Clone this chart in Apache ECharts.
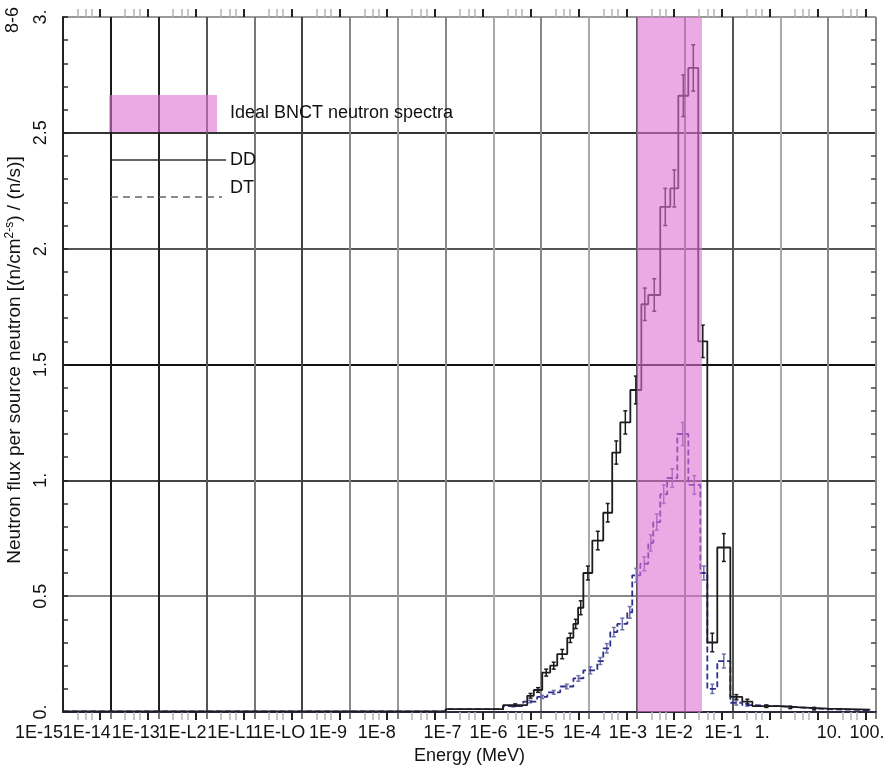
<!DOCTYPE html>
<html>
<head>
<meta charset="utf-8">
<script src="https://cdn.jsdelivr.net/npm/echarts@6/dist/echarts.min.js"></script>
<style>
html,body{margin:0;padding:0;background:#ffffff;}
#chart{width:891px;height:767px;}
</style>
</head>
<body>
<div id="chart"></div>
<script>
// ---------------- DATA ----------------
// x tick labels, one per decade from 1E-15 to 100 MeV (as printed)
const xTickLabels = ['1E-15','1E-14','1E-13','1E-L2','1E-L1','1E-LO','1E-9','1E-8','1E-7','1E-6',
                     '1E-5','1E-4','1E-3','1E-2','1E-1','1.','10.','100.'];
const yTickLabels = ['0.','0.5','1.','1.5','2.','2.5','3.'];
const xRangeMeV = [1e-15, 100];
const yRange = [0, 3];

// Ideal BNCT band (MeV)
const bandRange = [1.0e-3, 2.3e-2];

// DD spectrum: bin edges (MeV), bin values, error bar half-widths
const ddEdges = [1e-15, 1e-7, 1.6e-6, 5.1e-6, 7e-6, 1.05e-5, 1.54e-5, 2.16e-5, 3.5e-5, 4.7e-5,
                 5.9e-5, 7.6e-5, 1.17e-4, 1.98e-4, 3.05e-4, 4.5e-4, 7.3e-4, 1.24e-3, 1.73e-3, 3.08e-3,
                 5.0e-3, 7.35e-3, 1.19e-2, 1.92e-2, 2.97e-2, 4.8e-2, 9.0e-2, 0.16, 0.26, 1.0,
                 2.6, 10, 76];
const ddValues = [0.003, 0.012, 0.03, 0.07, 0.095, 0.17, 0.20, 0.25, 0.32, 0.38,
                  0.45, 0.60, 0.74, 0.86, 1.12, 1.25, 1.39, 1.76, 1.80, 2.18,
                  2.26, 2.66, 2.78, 1.60, 0.30, 0.71, 0.065, 0.045, 0.025, 0.02,
                  0.015, 0.01];
const ddErrors = [0, 0, 0.005, 0.01, 0.01, 0.015, 0.015, 0.02, 0.02, 0.02,
                  0.03, 0.03, 0.04, 0.04, 0.05, 0.05, 0.06, 0.07, 0.07, 0.08,
                  0.08, 0.09, 0.10, 0.07, 0.04, 0.06, 0.01, 0.01, 0.005, 0.005,
                  0.005, 0];

// DT spectrum
const dtEdges = [1e-15, 1e-7, 1.6e-6, 4.2e-6, 8.2e-6, 1.34e-5, 2.5e-5, 4.7e-5, 7.6e-5, 1.49e-4,
                 1.98e-4, 2.78e-4, 3.9e-4, 6.3e-4, 8.0e-4, 1.18e-3, 1.73e-3, 2.2e-3, 3.08e-3, 4.3e-3,
                 7.0e-3, 1.19e-2, 2.12e-2, 2.97e-2, 4.8e-2, 9.0e-2, 0.16, 0.26, 1.0, 2.6,
                 10, 76];
const dtValues = [0.003, 0.012, 0.025, 0.045, 0.065, 0.085, 0.11, 0.145, 0.18, 0.22,
                  0.275, 0.345, 0.38, 0.43, 0.59, 0.64, 0.73, 0.82, 0.94, 1.01,
                  1.20, 0.98, 0.60, 0.10, 0.22, 0.04, 0.03, 0.025, 0.02, 0.012,
                  0.008];
const dtErrors = [0, 0, 0.003, 0.005, 0.007, 0.008, 0.01, 0.012, 0.015, 0.015,
                  0.02, 0.02, 0.025, 0.025, 0.03, 0.03, 0.035, 0.035, 0.04, 0.04,
                  0.05, 0.04, 0.03, 0.02, 0.03, 0.01, 0.005, 0.005, 0.004, 0.003,
                  0];

// ---------------- STYLE ----------------
const FONT = "'Liberation Sans', Arial, sans-serif";
const bandColor = 'rgba(222,113,210,0.6)';
const vGridColors = ['#222','#1a1a1a','#222','#555','#777','#444','#888','#999','#888','#aaa',
                     '#888','#aaa','#555','#888','#555','#aaa','#888','#888'];
const hGridColors = ['#333','#888','#444','#111','#555','#333','#999'];
const xLabelShift = [-24,-24,-23,-24,-23,-23,-22,-21,-3,-5,-6,-7,-9,-11,-9,-18,1,-9];

const LOG = v => Math.log10(v);
const xMin = LOG(xRangeMeV[0]), xMax = LOG(xRangeMeV[1]);

function stepPoints(edges, values) {
  const pts = values.map((v, i) => [LOG(edges[i]), v]);
  pts.push([LOG(edges[edges.length - 1]), values[values.length - 1]]);
  return pts;
}
function errorPoints(edges, values, errs) {
  const out = [];
  values.forEach((v, i) => {
    if (errs[i] > 0) out.push([(LOG(edges[i]) + LOG(edges[i + 1])) / 2, v - errs[i], v + errs[i]]);
  });
  return out;
}

// minor tick positions (log placement inside each decade)
const minorLight = [], minorDark = [];
for (let d = Math.round(xMin); d < Math.round(xMax); d++) {
  [2, 3, 4].forEach(k => minorLight.push(d + LOG(k)));
  minorDark.push(d + LOG(6));
}

const rich = {};
xLabelShift.forEach((s, i) => {
  rich['l' + i] = {
    fontFamily: FONT, fontSize: 18, color: '#111',
    padding: s < 0 ? [0, -2 * s, 0, 0] : [0, 0, 0, 2 * s]
  };
});
function xLabelFmt(v) { const i = Math.round(v - xMin); return '{l' + i + '|' + xTickLabels[i] + '}'; }

function minorAxis(position, values, color, width) {
  return {
    type: 'value', position: position, min: xMin, max: xMax, interval: 1,
    axisLine: { show: false, onZero: false }, axisLabel: { show: false }, splitLine: { show: false },
    axisTick: { show: true, customValues: values, length: 8, lineStyle: { color: color, width: width } }
  };
}

function errRender(color) {
  return function (params, api) {
    const x = api.value(0), lo = api.value(1), hi = api.value(2);
    const p1 = api.coord([x, hi]), p2 = api.coord([x, lo]);
    const st = { stroke: color, lineWidth: 1.5 };
    return {
      type: 'group', children: [
        { type: 'line', shape: { x1: p1[0], y1: p1[1], x2: p2[0], y2: p2[1] }, style: st },
        { type: 'line', shape: { x1: p1[0] - 2, y1: p1[1], x2: p1[0] + 2, y2: p1[1] }, style: st },
        { type: 'line', shape: { x1: p2[0] - 2, y1: p2[1], x2: p2[0] + 2, y2: p2[1] }, style: st }
      ]
    };
  };
}

const chart = echarts.init(document.getElementById('chart'), null, { renderer: 'canvas' });
chart.setOption({
  animation: false,
  backgroundColor: '#ffffff',
  grid: { left: 63, right: 15, top: 17, bottom: 55, containLabel: false, outerBoundsMode: 'none' },
  xAxis: [
    {
      type: 'value', min: xMin, max: xMax, interval: 1, position: 'bottom',
      name: 'Energy (MeV)', nameLocation: 'middle', nameGap: 33,
      nameTextStyle: { fontFamily: FONT, fontSize: 18, color: '#111' },
      axisLine: { show: true, onZero: false, lineStyle: { color: '#2a2a3a', width: 2 } },
      axisTick: { show: true, length: 7, lineStyle: { color: '#555', width: 1.5 } },
      axisLabel: {
        show: true, margin: 12, showMinLabel: false, showMaxLabel: true,
        formatter: xLabelFmt, rich: rich
      },
      splitLine: { show: true, lineStyle: { color: vGridColors, width: 2 } }
    },
    {
      // carries only the first decade label (kept separate so it does not hide its neighbour)
      type: 'value', min: xMin, max: xMax, interval: 1, position: 'bottom',
      axisLine: { show: false, onZero: false }, axisTick: { show: false }, splitLine: { show: false },
      axisLabel: { show: true, margin: 12, customValues: [xMin], formatter: xLabelFmt, rich: rich }
    },
    minorAxis('bottom', minorLight, '#b5b5b5', 1.5),
    minorAxis('bottom', minorDark, '#222', 2),
    minorAxis('top', minorLight, '#b5b5b5', 1.5),
    minorAxis('top', minorDark, '#222', 2)
  ],
  yAxis: [
    {
      type: 'value', min: yRange[0], max: yRange[1], interval: 0.5, position: 'left',
      axisLine: { show: true, onZero: false, lineStyle: { color: '#222', width: 2 } },
      axisTick: { show: true, inside: true, length: 5, lineStyle: { color: '#222', width: 1.5 } },
      minorTick: { show: true, splitNumber: 5, length: 5, lineStyle: { color: '#333', width: 1.5 } },
      axisLabel: {
        show: true, rotate: 90, margin: 13, fontFamily: FONT, fontSize: 18, color: '#111',
        showMinLabel: true, showMaxLabel: true,
        formatter: function (v) { return yTickLabels[Math.round(v / 0.5)]; }
      },
      splitLine: { show: true, lineStyle: { color: hGridColors, width: 2 } }
    },
    {
      type: 'value', min: yRange[0], max: yRange[1], interval: 0.5, position: 'right',
      axisLine: { show: false, onZero: false }, axisLabel: { show: false }, splitLine: { show: false },
      axisTick: { show: false, inside: true },
      minorTick: { show: true, splitNumber: 5, length: 5, lineStyle: { color: '#444', width: 1.5 } }
    }
  ],
  series: [
    {
      name: 'DD', type: 'line', step: 'end', symbol: 'none', z: 3,
      data: stepPoints(ddEdges, ddValues),
      lineStyle: { color: '#1c1c1c', width: 1.8 }
    },
    {
      name: 'DT', type: 'line', step: 'end', symbol: 'none', z: 2,
      data: stepPoints(dtEdges, dtValues),
      lineStyle: { color: '#2e2e8e', width: 1.8, type: [6, 3] }
    },
    {
      name: 'DD errors', type: 'custom', z: 3, encode: { x: 0, y: [1, 2] },
      data: errorPoints(ddEdges, ddValues, ddErrors), renderItem: errRender('#1c1c1c')
    },
    {
      name: 'DT errors', type: 'custom', z: 2, encode: { x: 0, y: [1, 2] },
      data: errorPoints(dtEdges, dtValues, dtErrors), renderItem: errRender('#7070a8')
    },
    {
      name: 'Ideal BNCT neutron spectra', type: 'custom', z: 10, encode: { x: [0, 1] },
      data: [[LOG(bandRange[0]), LOG(bandRange[1])]],
      renderItem: function (params, api) {
        const cs = params.coordSys;
        const a = api.coord([api.value(0), yRange[1]]);
        const b = api.coord([api.value(1), yRange[0]]);
        return { type: 'rect', shape: { x: a[0], y: cs.y, width: b[0] - a[0], height: cs.height },
                 style: { fill: bandColor } };
      }
    }
  ],
  graphic: [
    { type: 'text', x: 13, y: 20, rotation: Math.PI / 2,
      style: { text: '8-6', fontFamily: FONT, fontSize: 18, fill: '#111', textAlign: 'center', textVerticalAlign: 'middle' } },
    { type: 'text', x: 15, y: 360, rotation: Math.PI / 2,
      style: {
        text: 'Neutron flux per source neutron [(n/cm{sup|2-s}) / (n/s)]',
        fontFamily: FONT, fontSize: 19, fill: '#111', textAlign: 'center', textVerticalAlign: 'middle',
        rich: { sup: { fontFamily: FONT, fontSize: 12, fill: '#111', verticalAlign: 'top', lineHeight: 22 } }
      } },
    // legend
    { type: 'rect', shape: { x: 109, y: 95, width: 108, height: 37 }, style: { fill: bandColor }, z: 20 },
    { type: 'text', x: 230, y: 113, z: 20,
      style: { text: 'Ideal BNCT neutron spectra', fontFamily: FONT, fontSize: 18, fill: '#111', textVerticalAlign: 'middle' } },
    { type: 'line', shape: { x1: 111, y1: 160, x2: 226, y2: 160 }, style: { stroke: '#333', lineWidth: 1.5 }, z: 20 },
    { type: 'text', x: 230, y: 160, z: 20,
      style: { text: 'DD', fontFamily: FONT, fontSize: 18, fill: '#111', textVerticalAlign: 'middle' } },
    { type: 'line', shape: { x1: 111, y1: 197, x2: 222, y2: 197 }, style: { stroke: '#666', lineWidth: 1.5, lineDash: [7, 5] }, z: 20 },
    { type: 'text', x: 230, y: 188, z: 20,
      style: { text: 'DT', fontFamily: FONT, fontSize: 18, fill: '#111', textVerticalAlign: 'middle' } }
  ]
});
</script>
</body>
</html>
